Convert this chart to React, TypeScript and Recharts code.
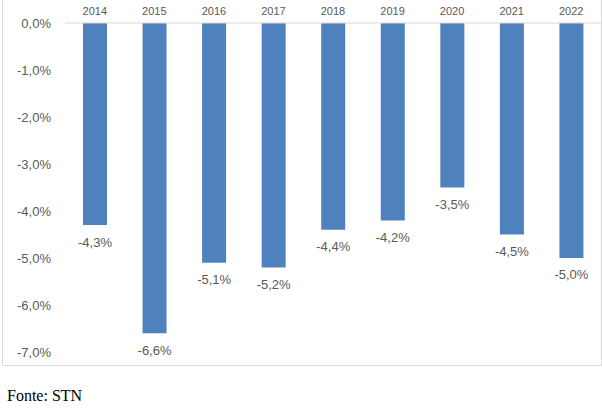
import { BarChart, Bar, XAxis, YAxis, LabelList } from "recharts";

const anos = ["2014", "2015", "2016", "2017", "2018", "2019", "2020", "2021", "2022"];
const resultado = [-4.3, -6.6, -5.1, -5.2, -4.4, -4.2, -3.5, -4.5, -5.0];
const ticksY = [0, -1, -2, -3, -4, -5, -6, -7];

const data = anos.map((ano, i) => ({ ano, valor: resultado[i] }));

const fmt = (v: number) => v.toFixed(1).replace(".", ",") + "%";

const cor = "#595959";
const fonte = "'Liberation Sans', Arial, sans-serif";

const Rotulo = (props: any) => {
  const { x, y, width, height, value } = props;
  const base = Math.max(y, y + height);
  return (
    <text
      x={x + width / 2}
      y={base + 18}
      textAnchor="middle"
      dominantBaseline="middle"
      fill={cor}
      fontSize={13}
      fontFamily={fonte}
    >
      {fmt(value)}
    </text>
  );
};

const App = () => {
  return (
    <div>
      <div
        style={{
          position: "absolute",
          left: 2,
          top: -1,
          width: 598,
          height: 365,
          border: "1px solid #d9d9d9",
          background: "#fff",
        }}
      >
        <BarChart
          width={598}
          height={365}
          data={data}
          margin={{ top: 3, right: 0, bottom: 13, left: 0 }}
          barCategoryGap="30%"
        >
          <XAxis
            dataKey="ano"
            orientation="top"
            height={20}
            tickLine={false}
            axisLine={{ stroke: "#d9d9d9" }}
            tick={{ fill: cor, fontSize: 11, fontFamily: fonte }}
            tickMargin={2}
            interval={0}
          />
          <YAxis
            width={62}
            domain={[-7, 0]}
            ticks={ticksY}
            axisLine={false}
            tickLine={false}
            tickMargin={8}
            tickFormatter={fmt}
            tick={{ fill: cor, fontSize: 13, fontFamily: fonte }}
          />
          <Bar dataKey="valor" fill="#4f81bd" barSize={24} isAnimationActive={false}>
            <LabelList dataKey="valor" content={Rotulo} />
          </Bar>
        </BarChart>
      </div>
      <div
        style={{
          position: "absolute",
          left: 7,
          top: 387,
          fontFamily: "'Liberation Serif', 'Times New Roman', serif",
          fontSize: 16,
          color: "#000",
        }}
      >
        Fonte: STN
      </div>
    </div>
  );
};

export default App;
